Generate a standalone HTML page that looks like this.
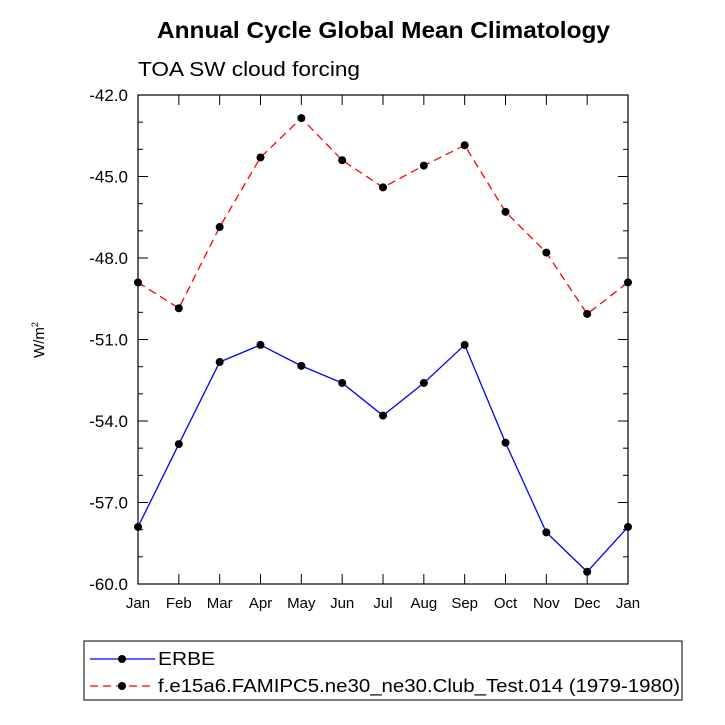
<!DOCTYPE html>
<html><head><meta charset="utf-8"><style>
body{margin:0;background:#fff;}
svg{display:block;font-family:"Liberation Sans",Helvetica,sans-serif;}
</style></head><body>
<svg id="chart" width="725" height="725" viewBox="0 0 725 725">
<text x="157" y="38" font-size="23" font-weight="bold" textLength="453" lengthAdjust="spacingAndGlyphs">Annual Cycle Global Mean Climatology</text>
<text x="138" y="76" font-size="20" textLength="222" lengthAdjust="spacingAndGlyphs">TOA SW cloud forcing</text>
<text transform="translate(44,340) rotate(-90)" text-anchor="middle" font-size="15">W/m<tspan dy="-6" font-size="9">2</tspan></text>
<g id="axes"></g>
<g id="series"></g>
<g>
<rect x="84" y="641" width="598" height="59" fill="none" stroke="#000" stroke-width="1"/>
<g>
<line x1="90" y1="659" x2="155" y2="659" stroke="#00f" stroke-width="1.3"/>
<circle cx="122" cy="659" r="4" fill="#000"/>
<text x="158" y="665" font-size="18" textLength="57" lengthAdjust="spacingAndGlyphs">ERBE</text></g>
<g>
<line x1="90" y1="686" x2="155" y2="686" stroke="#f00" stroke-width="1.3" stroke-dasharray="8,5"/>
<circle cx="122" cy="686" r="4" fill="#000"/>
<text x="158" y="692" font-size="18" textLength="522" lengthAdjust="spacingAndGlyphs">f.e15a6.FAMIPC5.ne30_ne30.Club_Test.014 (1979-1980)</text></g>
</g>
</svg>
<script>
const months=["Jan","Feb","Mar","Apr","May","Jun","Jul","Aug","Sep","Oct","Nov","Dec","Jan"];
const erbe=[-57.9,-54.85,-51.83,-51.2,-51.97,-52.6,-53.8,-52.6,-51.2,-54.8,-58.1,-59.55,-57.9];
const model=[-48.9,-49.85,-46.86,-44.3,-42.85,-44.4,-45.4,-44.6,-43.85,-46.3,-47.8,-50.06,-48.9];
const yTicks=["-42.0","-45.0","-48.0","-51.0","-54.0","-57.0","-60.0"];
const NS="http://www.w3.org/2000/svg";
const L=138,R=628,T=95,B=584,ymin=-60,ymax=-42;
const xs=i=>L+(R-L)*i/(months.length-1);
const ys=v=>B-(v-ymin)/(ymax-ymin)*(B-T);
function mk(tag,attrs,parent){const e=document.createElementNS(NS,tag);for(const k in attrs)e.setAttribute(k,attrs[k]);parent.appendChild(e);return e;}
const ax=document.getElementById('axes');
const frame=mk('rect',{x:L,y:T,width:R-L,height:B-T,fill:'none',stroke:'#000','stroke-width':1.2},ax);


months.forEach((m,i)=>{const x=xs(i);
mk('line',{x1:x,y1:B,x2:x,y2:B-10,stroke:'#000'},ax);
mk('line',{x1:x,y1:T,x2:x,y2:T+10,stroke:'#000'},ax);
const t=mk('text',{x:x,y:B+24,'text-anchor':'middle','font-size':15},ax);t.textContent=m;

});
for(let v=ymin;v<=ymax;v+=1){const y=ys(v);const major=(Math.round(v)%3===0);const len=major?10:5;
mk('line',{x1:L,y1:y,x2:L+len,y2:y,stroke:'#000'},ax);
mk('line',{x1:R,y1:y,x2:R-len,y2:y,stroke:'#000'},ax);}
yTicks.forEach(s=>{const y=ys(parseFloat(s));const t=mk('text',{x:L-10,y:y+6,'text-anchor':'end','font-size':17},ax);t.textContent=s;

});
const sg=document.getElementById('series');
function draw(data,color,dash,name){const g=mk('g',{},sg);


mk('polyline',{points:data.map((v,i)=>xs(i)+','+ys(v)).join(' '),fill:'none',stroke:color,'stroke-width':1.3,'stroke-dasharray':dash},g);
data.forEach((v,i)=>{const c=mk('circle',{cx:xs(i),cy:ys(v),r:4,fill:'#000'},g);

});}
draw(erbe,'#00f','none','erbe-series');
draw(model,'#f00','8,5','model-series');
</script>
</body></html>
